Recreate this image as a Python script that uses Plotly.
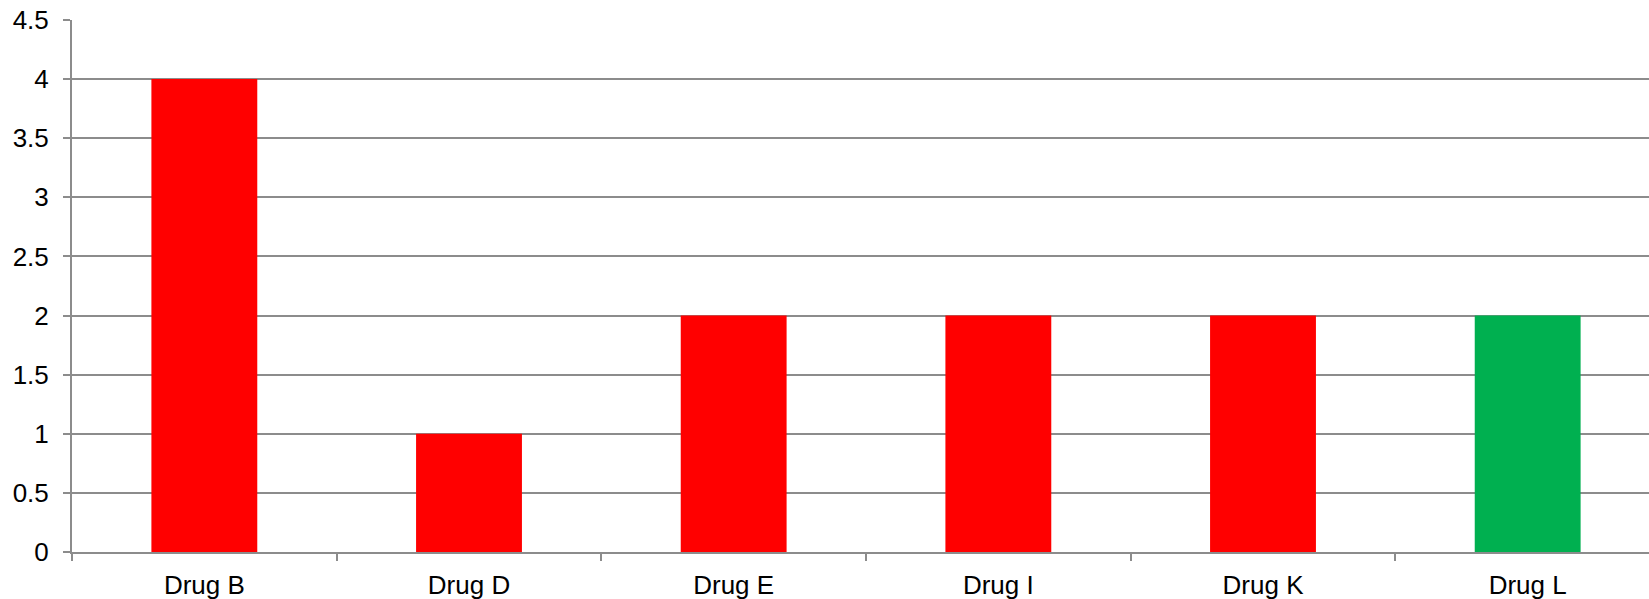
import plotly.graph_objects as go

# Number of reports per drug
drugs = ["Drug B", "Drug D", "Drug E", "Drug I", "Drug K", "Drug L"]
counts = [4, 1, 2, 2, 2, 2]
bar_colors = ["#FF0000", "#FF0000", "#FF0000", "#FF0000", "#FF0000", "#00B050"]
y_ticks = [0, 0.5, 1, 1.5, 2, 2.5, 3, 3.5, 4, 4.5]
y_tick_text = ["0", "0.5", "1", "1.5", "2", "2.5", "3", "3.5", "4", "4.5"]

GRID = "#8C8C8C"
FONT = dict(family="Liberation Sans, Arial, sans-serif", size=26, color="#000000")

fig = go.Figure(
    go.Bar(
        x=drugs,
        y=counts,
        marker=dict(color=bar_colors, line=dict(width=0)),
        width=0.4,
    )
)

fig.update_layout(
    width=1649,
    height=599,
    margin=dict(l=72, r=0, t=20, b=47),
    paper_bgcolor="white",
    plot_bgcolor="white",
    showlegend=False,
    font=FONT,
)

fig.update_xaxes(
    type="category",
    range=[-0.5, 5.4584],
    tickson="boundaries",
    ticks="outside",
    ticklen=7,
    tickwidth=2,
    tickcolor=GRID,
    showline=True,
    linecolor=GRID,
    linewidth=2,
    showgrid=False,
    tickfont=FONT,
    ticklabelstandoff=9,
)

fig.update_yaxes(
    range=[0, 4.5],
    tickvals=y_ticks,
    ticktext=y_tick_text,
    ticks="outside",
    ticklen=7,
    tickwidth=2,
    tickcolor=GRID,
    showline=True,
    linecolor=GRID,
    linewidth=2,
    showgrid=True,
    gridcolor=GRID,
    gridwidth=2,
    zeroline=False,
    tickfont=FONT,
    ticklabelstandoff=9,
)

fig.write_html("out.html")
